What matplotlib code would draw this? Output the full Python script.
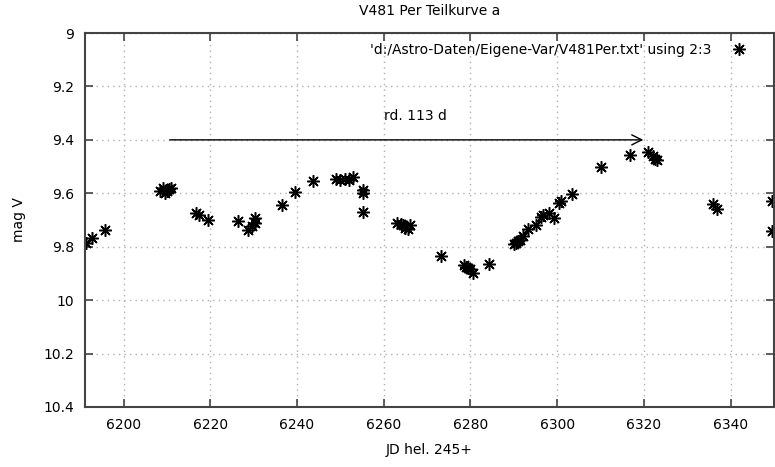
import matplotlib
matplotlib.use("Agg")
import matplotlib.pyplot as plt

# JD hel. 245+ and mag V
jd = [6191.4, 6192.6, 6195.7,
      6208.5, 6209.0, 6209.5, 6210.0, 6210.5, 6211.0,
      6216.6, 6217.4, 6219.5,
      6226.3, 6228.6, 6229.6, 6230.3, 6230.3,
      6236.6, 6239.5, 6243.7,
      6249.0, 6250.0, 6251.0, 6252.0, 6253.0,
      6255.3, 6255.3, 6255.1,
      6263.0, 6264.0, 6264.5, 6265.0, 6265.5, 6266.0,
      6273.1,
      6278.5, 6279.0, 6279.5, 6280.0, 6280.5,
      6284.2,
      6290.0, 6290.5, 6291.0, 6291.5, 6292.0,
      6293.2, 6295.1, 6296.2, 6296.7, 6298.1, 6299.3,
      6300.4, 6300.9, 6303.3,
      6310.1, 6316.9, 6321.0, 6322.1, 6322.5, 6323.1,
      6335.9, 6336.8, 6349.6, 6349.6]
mag = [9.786, 9.767, 9.736,
       9.59, 9.58, 9.60, 9.59, 9.585, 9.58,
       9.672, 9.68, 9.70,
       9.705, 9.739, 9.724, 9.693, 9.71,
       9.643, 9.596, 9.553,
       9.545, 9.55, 9.545, 9.55, 9.54,
       9.587, 9.60, 9.67,
       9.71, 9.715, 9.72, 9.73, 9.735, 9.72,
       9.836,
       9.87, 9.875, 9.88, 9.885, 9.90,
       9.865,
       9.79, 9.785, 9.78, 9.775, 9.76,
       9.734, 9.718, 9.687, 9.68, 9.674, 9.693,
       9.637, 9.63, 9.602,
       9.502, 9.456, 9.447, 9.462, 9.47, 9.475,
       9.639, 9.658, 9.627, 9.74]

xticks = [6200, 6220, 6240, 6260, 6280, 6300, 6320, 6340]
yticks = [9, 9.2, 9.4, 9.6, 9.8, 10, 10.2, 10.4]
ytick_labels = ["9", "9.2", "9.4", "9.6", "9.8", "10", "10.2", "10.4"]

arrow_start = 6210
arrow_end = 6320.5
arrow_mag = 9.4

plt.rcParams['font.family'] = ['DejaVu Sans']

fig = plt.figure(figsize=(7.75, 4.67), dpi=100)
ax = fig.add_axes([0.1097, 0.1285, 0.889, 0.8008])

star = (8, 2, 0)
ax.plot(jd, mag, linestyle='none', marker=star, markersize=9,
        color='black', markeredgewidth=1.1,
        label="'d:/Astro-Daten/Eigene-Var/V481Per.txt' using 2:3")

ax.annotate('', xy=(arrow_end, arrow_mag), xytext=(arrow_start, arrow_mag),
            arrowprops=dict(arrowstyle='->', color='black', lw=1.0,
                            mutation_scale=18))
ax.text(6260, 9.31, 'rd. 113 d', fontsize=10, ha='left', va='center')

ax.set_xlim(6191.1, 6350)
ax.set_ylim(10.4, 9)
ax.set_xticks(xticks)
ax.set_yticks(yticks)
ax.set_yticklabels(ytick_labels)
ax.tick_params(direction='in', length=6, width=1.2, color='#444444',
               top=True, right=True, labelsize=10, pad=8)
ax.grid(True, linestyle=(0, (1, 3)), color='#b0b0b0', linewidth=1.0)
for s in ax.spines.values():
    s.set_color('#444444')
    s.set_linewidth(1.5)

ax.set_title('V481 Per Teilkurve a', fontsize=10, pad=13)
ax.set_xlabel('JD hel. 245+', fontsize=10, labelpad=8)
ax.set_ylabel('mag V', fontsize=10, labelpad=12)

leg = ax.legend(loc='upper right', frameon=False, fontsize=10,
                markerfirst=False, handlelength=1.5, borderaxespad=0.3,
                handletextpad=1.2, bbox_to_anchor=(0.978, 1.0))

fig.savefig('out.png', dpi=100)
